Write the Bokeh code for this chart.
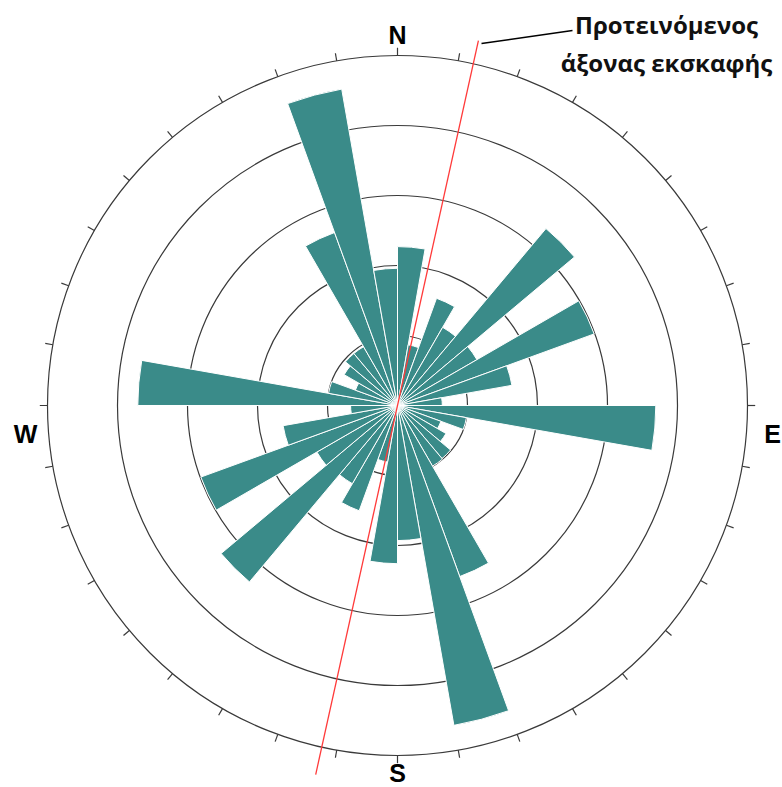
import numpy as np
from bokeh.plotting import figure
from bokeh.models import Range1d
from bokeh.embed import file_html
from bokeh.resources import INLINE
from bokeh.core.properties import value

# ---- data: 10-degree azimuth classes (clockwise from North) and petal lengths (ring units)
bin_start = list(range(0, 360, 10))
petal_len = [2.27, 0.88, 1.63, 1.29, 3.30, 1.31, 2.99, 1.66, 0.64,
             3.69, 1.00, 0.66, 0.80, 0.99, 1.00, 2.60, 4.64, 1.93,
             2.26, 0.82, 1.60, 1.29, 3.29, 1.33, 2.99, 1.66, 0.67,
             3.71, 1.00, 0.64, 0.88, 0.97, 0.97, 2.63, 4.59, 1.96]
rings = [1, 2, 3, 4]
outer_ring = 5
axis_azimuth = 12.5          # proposed excavation axis
compass_labels = ["N", "E", "S", "W"]
annot_lines = ["Προτεινόμενος", "άξονας εκσκαφής"]

TEAL = "#3a8b89"
RING = "#3a3a3a"

W, H = 782, 787
CX, CY, PX = 397, 405, 70.0

p = figure(width=W, height=H,
           x_range=Range1d(-CX / PX, (W - CX) / PX), y_range=Range1d(-(H - CY) / PX, CY / PX),
           output_backend="svg", toolbar_location=None, min_border=0,
           x_axis_type=None, y_axis_type=None)
p.outline_line_color = None
p.background_fill_color = "white"
p.border_fill_color = "white"

# rings
p.circle(x=0, y=0, radius=rings, fill_color=None, line_color=RING, line_width=1.2)
p.circle(x=0, y=0, radius=outer_ring, fill_color=None, line_color=RING, line_width=1.2)

# compass ticks every 10 degrees
az = np.radians(np.arange(0, 360, 10))
p.segment(x0=outer_ring * np.sin(az), y0=outer_ring * np.cos(az),
          x1=(outer_ring + 0.11) * np.sin(az), y1=(outer_ring + 0.11) * np.cos(az),
          line_color=RING, line_width=1.2)

# petals
b = np.array(bin_start, dtype=float)
p.wedge(x=0, y=0, radius=petal_len,
        start_angle=np.radians(90 - (b + 10)), end_angle=np.radians(90 - b),
        fill_color=TEAL, line_color="white", line_width=1)

# proposed excavation axis
a = np.radians(axis_azimuth)
p.segment(x0=[-5.40 * np.sin(a)], y0=[-5.40 * np.cos(a)],
          x1=[5.34 * np.sin(a)], y1=[5.34 * np.cos(a)],
          line_color="#ff3a3a", line_width=1.3)

# leader line + annotation
p.segment(x0=[1.20], y0=[5.17], x1=[2.50], y1=[5.357], line_color="black", line_width=1.5)
p.text(x=[3.843, 3.843], y=[5.443, 4.90], text=annot_lines,
       text_font=value("Open Sans"), text_font_style="bold", text_font_size="24px",
       text_align="center", text_baseline="alphabetic", text_color="#111111")

# compass labels
p.text(x=[0.0, 5.357, 0.0, -5.314], y=[5.286, -0.414, -5.257, -0.414], text=compass_labels,
       text_font=value("Liberation Sans"), text_font_style="bold", text_font_size="25px",
       text_align="center", text_baseline="alphabetic", text_color="black")

open("out.html", "w").write(file_html(p, INLINE))
